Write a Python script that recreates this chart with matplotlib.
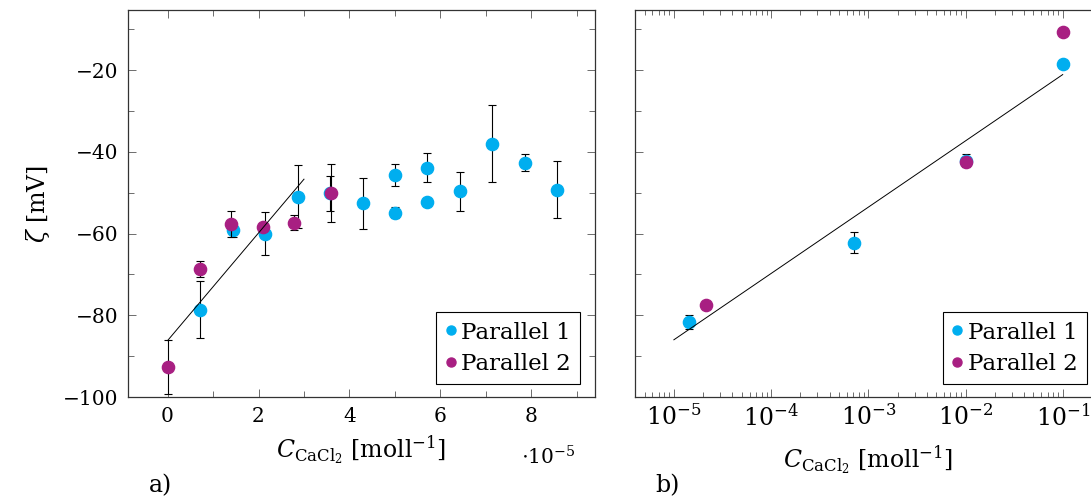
import matplotlib
matplotlib.use("Agg")
import matplotlib.pyplot as plt
from matplotlib.lines import Line2D
from matplotlib.ticker import MultipleLocator, LogLocator, NullFormatter

plt.rcParams['font.family'] = ['DejaVu Serif']
plt.rcParams['mathtext.fontset'] = 'dejavuserif'
plt.rcParams['font.size'] = 14.5

# ---- data panel a) (concentration in units of 1e-5 mol/l) ----
a_p1_x = [0.71, 1.43, 2.14, 2.86, 3.57, 4.29, 5.0, 5.0, 5.71, 5.71, 6.43, 7.14, 7.86, 8.57]
a_p1_y = [-78.6, -59.1, -60.0, -51.0, -50.1, -52.6, -45.7, -54.9, -43.9, -52.4, -49.7, -38.0, -42.7, -49.3]
a_p1_e = [7.0, 1.8, 5.3, 7.7, 4.3, 6.3, 2.6, 1.3, 3.5, 0.0, 4.8, 9.4, 2.1, 7.0]
a_p2_x = [0.0, 0.71, 1.40, 2.09, 2.79, 3.60]
a_p2_y = [-92.7, -68.7, -57.6, -58.5, -57.3, -50.1]
a_p2_e = [6.6, 1.9, 3.2, 1.0, 1.8, 7.0]
a_fit_x = [0.0, 3.0]
a_fit_y = [-86.2, -46.7]

# ---- data panel b) ----
b_p1_x = [1.43e-5, 7.14e-4, 1e-2, 1e-1]
b_p1_y = [-81.6, -62.2, -42.2, -18.4]
b_p1_e = [1.7, 2.5, 1.6, 0.0]
b_p2_x = [2.14e-5, 1e-2, 1e-1]
b_p2_y = [-77.5, -42.5, -10.8]
b_p2_e = [0.8, 1.0, 0.0]
b_fit_x = [1e-5, 1e-1]
b_fit_y = [-86.0, -21.1]

labels = ['Parallel 1', 'Parallel 2']
c1 = '#00AEEF'
c2 = '#A81F82'

W, H = 1091, 499
fig = plt.figure(figsize=(W / 100, H / 100), dpi=100)

axA = fig.add_axes([128 / W, (H - 397) / H, 467 / W, 387 / H])
axB = fig.add_axes([635 / W, (H - 397) / H, 466.6 / W, 387 / H])

ekw = dict(fmt='o', ms=8.8, ecolor='black', elinewidth=0.8, capsize=3.2, capthick=0.8)
LAB = 17


def style(ax):
    for s in ax.spines.values():
        s.set_linewidth(0.9)
        s.set_color('#333333')
    ax.tick_params(which='both', direction='in', top=True, right=True, width=0.6, colors='#555555',
                   labelcolor='black')
    ax.tick_params(which='major', length=6.0, pad=7)
    ax.tick_params(which='minor', length=4.5)


def legend(ax):
    handles = [Line2D([], [], ls='none', marker='o', ms=6.5, color=c1),
               Line2D([], [], ls='none', marker='o', ms=6.5, color=c2)]
    lg = ax.legend(handles, labels, loc='lower right', bbox_to_anchor=(0.968, 0.034), borderaxespad=0,
                   fancybox=False, edgecolor='black', framealpha=1, fontsize=16.5,
                   handlelength=0.5, handletextpad=0.2, borderpad=0.4, labelspacing=0.4)
    lg.get_frame().set_linewidth(0.8)


# panel a
axA.errorbar(a_p1_x, a_p1_y, yerr=a_p1_e, color=c1, zorder=3, **ekw)
axA.errorbar(a_p2_x, a_p2_y, yerr=a_p2_e, color=c2, zorder=4, **ekw)
axA.plot(a_fit_x, a_fit_y, color='black', lw=0.7, zorder=5)
axA.set_xlim(-0.87, 9.4)
axA.set_ylim(-100, -5.3)
axA.xaxis.set_major_locator(MultipleLocator(2))
axA.xaxis.set_minor_locator(MultipleLocator(1))
axA.yaxis.set_major_locator(MultipleLocator(20))
axA.yaxis.set_minor_locator(MultipleLocator(10))
style(axA)
axA.set_xlabel(r'$C_{\mathrm{CaCl}_2}$ $[\mathrm{moll}^{-1}]$', fontsize=LAB, labelpad=6)
axA.set_ylabel(r'$\zeta$ [mV]', fontsize=LAB, labelpad=8)
legend(axA)
fig.text(548 / W, 1 - 457 / H, r'$\cdot10^{-5}$', ha='center', va='center', fontsize=14.5)
fig.text(160 / W, 1 - 486 / H, 'a)', ha='center', va='center', fontsize=17)

# panel b
axB.errorbar(b_p1_x, b_p1_y, yerr=b_p1_e, color=c1, zorder=3, **ekw)
axB.errorbar(b_p2_x, b_p2_y, yerr=b_p2_e, color=c2, zorder=4, **ekw)
axB.plot(b_fit_x, b_fit_y, color='black', lw=0.7, zorder=5)
axB.set_xscale('log')
axB.set_xlim(10 ** -5.4, 10 ** -0.6)
axB.set_ylim(-100, -5.3)
axB.xaxis.set_major_locator(LogLocator(base=10, numticks=20))
axB.xaxis.set_minor_locator(LogLocator(base=10, subs=range(2, 10), numticks=20))
axB.xaxis.set_minor_formatter(NullFormatter())
axB.yaxis.set_major_locator(MultipleLocator(20))
axB.yaxis.set_minor_locator(MultipleLocator(10))
style(axB)
axB.tick_params(which='minor', axis='x', length=3.5)
axB.tick_params(axis='x', which='major', labelsize=17, pad=5)
axB.tick_params(axis='y', labelleft=False)
axB.set_xlabel(r'$C_{\mathrm{CaCl}_2}$ $[\mathrm{moll}^{-1}]$', fontsize=LAB)
axB.xaxis.set_label_coords((868 - 635) / 466.6, -0.12)
legend(axB)
fig.text(668 / W, 1 - 486 / H, 'b)', ha='center', va='center', fontsize=17)

fig.savefig('out.png', dpi=100)
